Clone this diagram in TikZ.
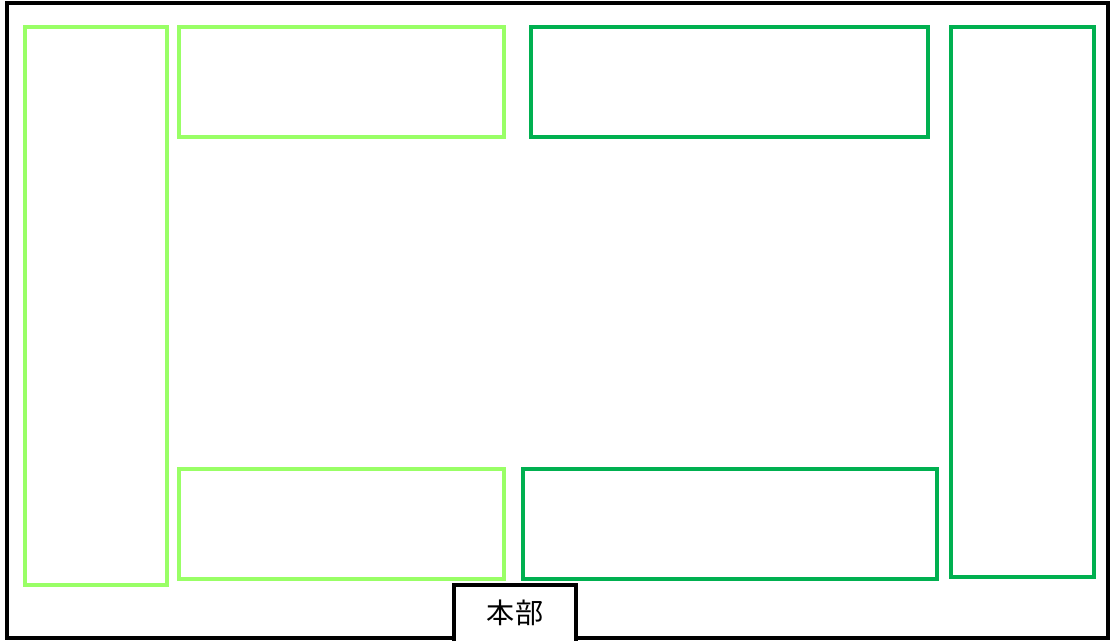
\documentclass[tikz,border=0pt]{standalone}
\usepackage{fontspec}
\newfontfamily\cjkfont{Noto Sans CJK JP}
\definecolor{lightgrn}{RGB}{153,255,102}
\definecolor{darkgrn}{RGB}{0,176,80}

\begin{document}
\begin{tikzpicture}[
	x=0.025cm, y=-0.025cm,
	frame/.style = {draw=black, line width=2.2pt},
	area/.style = {draw, line width=2.8pt, inner sep=0pt, outer sep=0pt},
	areaL/.style = {area, draw=lightgrn},
	areaD/.style = {area, draw=darkgrn},
	hq/.style = {fill=white, inner sep=0pt, outer sep=0pt, minimum width=122*0.025cm,
		minimum height=56*0.025cm, font=\cjkfont\fontsize{20pt}{22pt}\selectfont}
     ]
		\useasboundingbox (0,0) rectangle (1114,641);
		\draw[frame] (7,3) rectangle (1108,638);
%
		\node[areaL, minimum width=142*0.025cm, minimum height=558*0.025cm] (west)   at (96,306)    {};
		\node[areaL, minimum width=325*0.025cm, minimum height=110*0.025cm] (nwest)  at (341.5,82)  {};
		\node[areaL, minimum width=325*0.025cm, minimum height=110*0.025cm] (swest)  at (341.5,524) {};
%
		\node[areaD, minimum width=397*0.025cm, minimum height=110*0.025cm] (neast)  at (729.5,82)  {};
		\node[areaD, minimum width=414*0.025cm, minimum height=110*0.025cm] (seast)  at (730,524)   {};
		\node[areaD, minimum width=143*0.025cm, minimum height=550*0.025cm] (east)   at (1022.5,302) {};
%
		\node[hq] (base) at (515,613) {本部};
		\draw[frame] (base.south west) |- (base.north east) -- (base.south east);
\end{tikzpicture}
\end{document}
